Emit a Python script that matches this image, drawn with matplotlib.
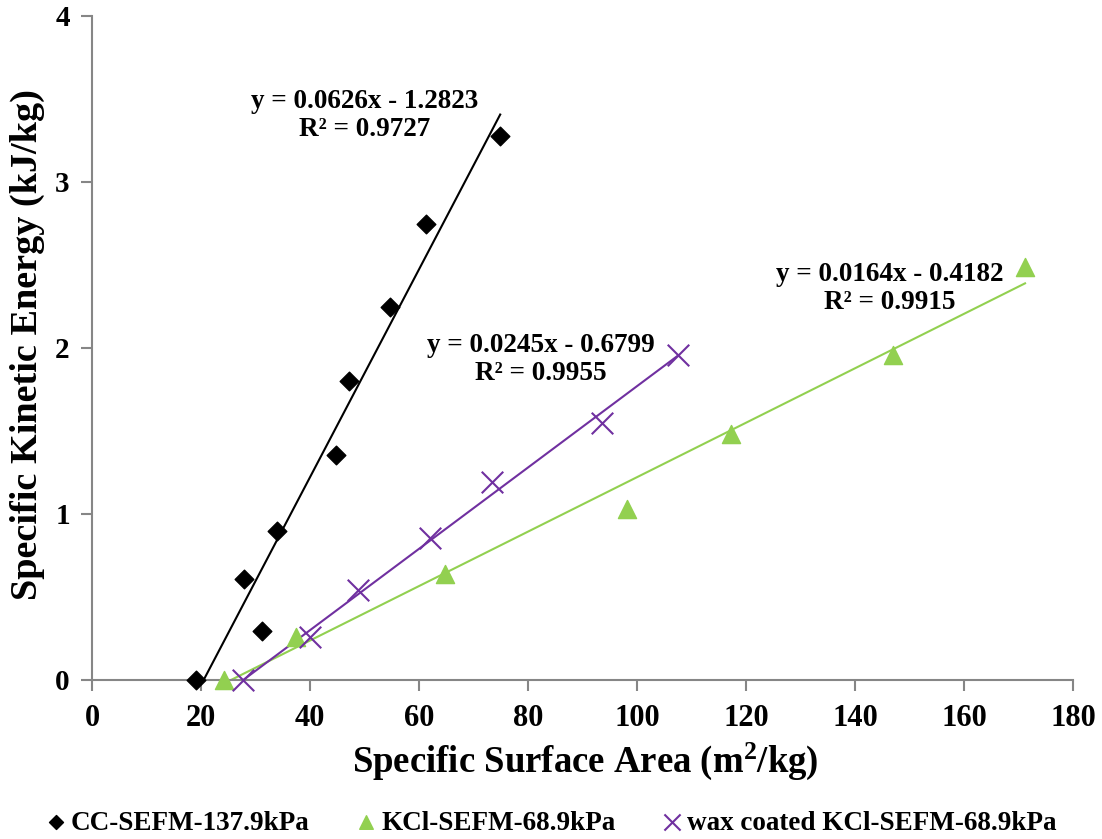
import matplotlib
matplotlib.use("Agg")
import matplotlib.pyplot as plt
import numpy as np

plt.rcParams['font.family'] = ['Liberation Serif', 'DejaVu Serif']
plt.rcParams['font.weight'] = 'bold'
plt.rcParams['mathtext.fontset'] = 'custom'
plt.rcParams['mathtext.rm'] = 'Liberation Serif:bold'
plt.rcParams['mathtext.bf'] = 'Liberation Serif:bold'
plt.rcParams['mathtext.it'] = 'Liberation Serif:bold'

cc_x = [19.1, 27.9, 31.2, 33.9, 44.8, 47.2, 54.7, 61.3, 74.9]
cc_y = [0.0, 0.61, 0.295, 0.90, 1.355, 1.80, 2.25, 2.75, 3.28]
kcl_x = [24.2, 37.4, 64.8, 98.2, 117.2, 147.0, 171.2]
kcl_y = [0.0, 0.26, 0.64, 1.03, 1.48, 1.96, 2.49]
wax_x = [27.7, 40.0, 48.8, 62.0, 73.4, 93.6, 107.5]
wax_y = [0.0, 0.26, 0.54, 0.855, 1.19, 1.55, 1.96]

cc_fit = (0.0626, -1.2823, 0.9727)
kcl_fit = (0.0164, -0.4182, 0.9915)
wax_fit = (0.0245, -0.6799, 0.9955)

labels = ['CC-SEFM-137.9kPa', 'KCl-SEFM-68.9kPa', 'wax coated KCl-SEFM-68.9kPa']
black = '#000000'
green = '#92D050'
purple = '#7030A0'
gray = '#868686'

fig = plt.figure(figsize=(11.02, 8.39), dpi=100)
ax = fig.add_axes([92/1102, 1-680/839, (1073-92)/1102, (680-16)/839])

def trend(x, fit, color):
    m, b, _ = fit
    xs = np.linspace(min(x), max(x), 200)
    ys = m*xs + b
    ax.plot(xs, ys, color=color, lw=1.5, zorder=2)

trend(cc_x, cc_fit, black)
trend(kcl_x, kcl_fit, green)
trend(wax_x, wax_fit, purple)

h1 = ax.scatter(cc_x, cc_y, marker='D', s=90, color=black, zorder=3, clip_on=False, label=labels[0])
h2 = ax.scatter(kcl_x, kcl_y, marker='^', s=170, color=green, zorder=3, clip_on=False, label=labels[1])
h3 = ax.scatter(wax_x, wax_y, marker='x', s=240, color=purple, linewidths=1.5, zorder=3, clip_on=False, label=labels[2])

def eqtext(x, y, fit):
    m, b, r2 = fit
    ax.text(x, y, f"y = {m:.4f}x - {abs(b):.4f}\nR² = {r2:.4f}", ha='center', va='center',
            fontsize=19.5, fontweight='bold', linespacing=1.15)

eqtext(50.1, 3.40, cc_fit)
eqtext(146.4, 2.36, kcl_fit)
eqtext(82.4, 1.93, wax_fit)

ax.set_xlim(0, 180)
ax.set_ylim(0, 4)
ax.set_xticks(np.arange(0, 181, 20))
ax.set_yticks([0, 1, 2, 3, 4])
for s in ['top', 'right']:
    ax.spines[s].set_visible(False)
for s in ['left', 'bottom']:
    ax.spines[s].set_color(gray)
    ax.spines[s].set_linewidth(1.5)
ax.tick_params(axis='x', direction='out', length=8, width=1.5, color=gray, labelsize=22, pad=9)
ax.tick_params(axis='y', direction='out', length=8, width=1.5, color=gray, labelsize=21, pad=8)
for lab in ax.get_xticklabels() + ax.get_yticklabels():
    lab.set_fontweight('bold')

ax.set_xlabel('Specific Surface Area (m$^{2}$/kg)', fontsize=26.5, fontweight='bold')
ax.set_ylabel('Specific Kinetic Energy (kJ/kg)', fontsize=27.5, fontweight='bold')
ax.xaxis.set_label_coords((585-92)/981, -(741-680)/664)
ax.yaxis.set_label_coords(-(92-45)/981, (680-345)/664)

leg = fig.legend(handles=[h1, h2, h3], loc='center', bbox_to_anchor=(552/1102, 1-823/839), ncol=3,
                 frameon=False, handlelength=0.6, handletextpad=0.25, columnspacing=1.8,
                 prop={'weight': 'bold', 'size': 19.5}, scatterpoints=1, markerscale=0.75)

fig.savefig('out.png', dpi=100)
